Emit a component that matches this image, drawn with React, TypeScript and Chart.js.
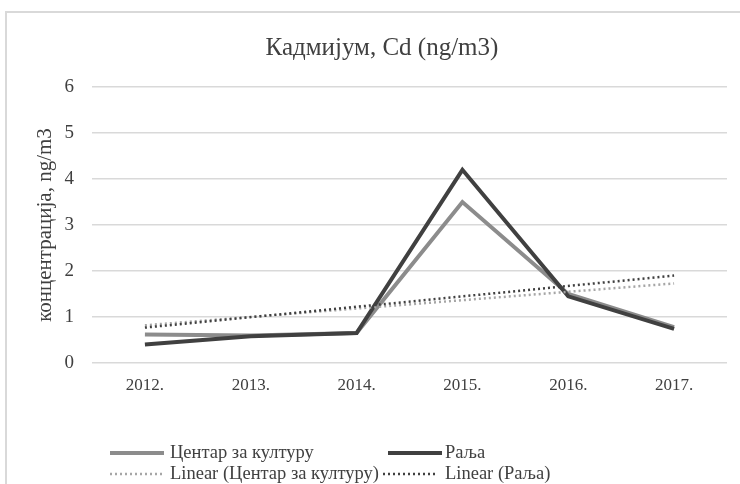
import React, { useEffect, useRef } from "react";
import { Chart, registerables } from "chart.js";

Chart.register(...registerables);

const categories = ["2012.", "2013.", "2014.", "2015.", "2016.", "2017."];
const centarValues = [0.62, 0.6, 0.65, 3.5, 1.5, 0.78];
const raljaValues = [0.4, 0.58, 0.65, 4.2, 1.45, 0.74];
const linearCentar = [0.82, null, null, null, null, 1.73];
const linearRalja = [0.77, null, null, null, null, 1.9];
const yTicks = [0, 1, 2, 3, 4, 5, 6];

const titleText = "Кадмијум, Cd (ng/m3)";
const yTitleText = "концентрација, ng/m3";
const seriesNames = ["Центар за културу", "Раља", "Linear (Центар за културу)", "Linear (Раља)"];

const FONT = "'Liberation Serif', 'Times New Roman', serif";
const TEXT = "#404040";
const C_LIGHT = "#8c8c8c";
const C_DARK = "#404040";
const C_TREND_LIGHT = "#a6a6a6";

const framePlugin = {
  id: "frame",
  beforeDraw(chart: any) {
    const ctx = chart.ctx;
    ctx.save();
    ctx.strokeStyle = "#d9d9d9";
    ctx.lineWidth = 2;
    ctx.beginPath();
    ctx.moveTo(6, 600);
    ctx.lineTo(6, 12);
    ctx.lineTo(800, 12);
    ctx.stroke();
    ctx.restore();
  },
  afterDraw(chart: any) {
    const ctx = chart.ctx;
    ctx.save();
    // title
    ctx.fillStyle = TEXT;
    ctx.font = `25px ${FONT}`;
    ctx.textAlign = "center";
    ctx.textBaseline = "middle";
    ctx.fillText(titleText, 382, 48);

    // legend
    const items = [
      { x: 110, y: 453, w: 54, tx: 170, color: C_LIGHT, dash: [] as number[], lw: 4, label: seriesNames[0] },
      { x: 388, y: 453, w: 54, tx: 445, color: C_DARK, dash: [] as number[], lw: 4, label: seriesNames[1] },
      { x: 110, y: 474, w: 52, tx: 170, color: C_TREND_LIGHT, dash: [2, 3], lw: 2.5, label: seriesNames[2] },
      { x: 383, y: 474, w: 54, tx: 445, color: C_DARK, dash: [2, 3], lw: 2.5, label: seriesNames[3] },
    ];
    for (const it of items) {
      ctx.strokeStyle = it.color;
      ctx.lineWidth = it.lw;
      ctx.setLineDash(it.dash);
      ctx.beginPath();
      ctx.moveTo(it.x, it.y);
      ctx.lineTo(it.x + it.w, it.y);
      ctx.stroke();
      ctx.setLineDash([]);
      ctx.fillStyle = TEXT;
      ctx.font = `18.5px ${FONT}`;
      ctx.textAlign = "left";
      ctx.textBaseline = "middle";
      ctx.fillText(it.label, it.tx, it.y);
    }
    ctx.restore();
  },
};

export default function App() {
  const ref = useRef<HTMLCanvasElement | null>(null);

  useEffect(() => {
    if (!ref.current) return;
    const chart = new Chart(ref.current, {
      type: "line",
      data: {
        labels: categories,
        datasets: [
          {
            label: seriesNames[3],
            data: linearRalja,
            borderColor: C_DARK,
            borderWidth: 2.5,
            borderDash: [2, 3],
            pointRadius: 0,
            spanGaps: true,
            order: 0,
          },
          {
            label: seriesNames[2],
            data: linearCentar,
            borderColor: C_TREND_LIGHT,
            borderWidth: 2.5,
            borderDash: [2, 3],
            pointRadius: 0,
            spanGaps: true,
            order: 1,
          },
          {
            label: seriesNames[1],
            data: raljaValues,
            borderColor: C_DARK,
            borderWidth: 4,
            pointRadius: 0,
            tension: 0,
            order: 2,
          },
          {
            label: seriesNames[0],
            data: centarValues,
            borderColor: C_LIGHT,
            borderWidth: 4,
            pointRadius: 0,
            tension: 0,
            order: 3,
          },
        ],
      },
      options: {
        animation: false,
        responsive: true,
        maintainAspectRatio: false,
        layout: { padding: { left: 0, right: 13, top: 87, bottom: 81 } },
        plugins: {
          legend: { display: false },
          tooltip: { enabled: false },
          title: { display: false },
        },
        scales: {
          x: {
            type: "category",
            offset: true,
            grid: { display: false, drawTicks: false },
            border: { display: false },
            ticks: {
              color: TEXT,
              font: { family: FONT, size: 17 },
              padding: 12,
            },
            afterFit(scale: any) {
              scale.height = 40;
            },
          },
          y: {
            min: 0,
            max: 6,
            afterBuildTicks(scale: any) {
              scale.ticks = yTicks.map((v) => ({ value: v }));
            },
            grid: { color: "#d9d9d9", lineWidth: 1.5, drawTicks: false },
            border: { display: false },
            ticks: {
              color: TEXT,
              font: { family: FONT, size: 19 },
              padding: 18,
            },
            title: {
              display: true,
              text: yTitleText,
              color: TEXT,
              font: { family: FONT, size: 21 },
              padding: { top: 33, bottom: 0 },
            },
            afterFit(scale: any) {
              scale.width = 92;
            },
          },
        },
      },
      plugins: [framePlugin],
    });
    return () => chart.destroy();
  }, []);

  return (
    <div style={{ position: "absolute", left: 0, top: 0, width: 740, height: 484, background: "#fff" }}>
      <canvas ref={ref} />
    </div>
  );
}
